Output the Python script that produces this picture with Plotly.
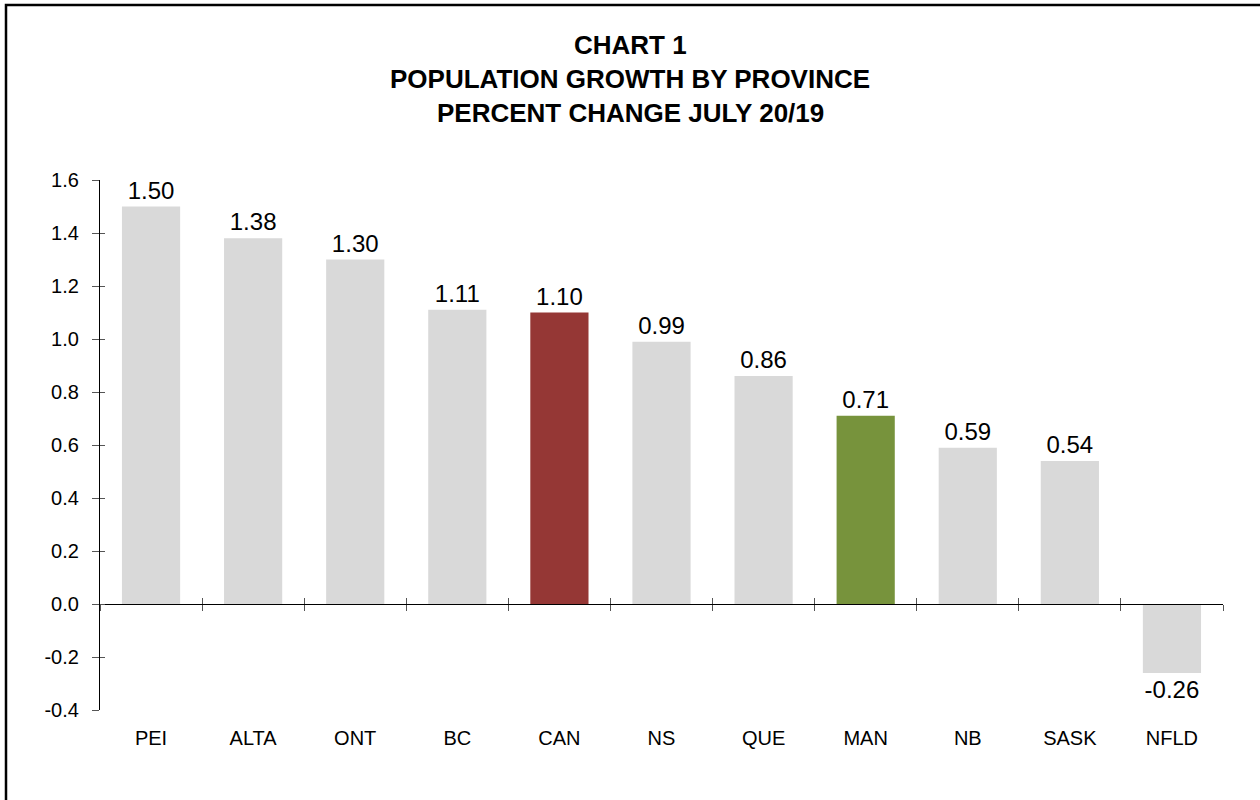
import plotly.graph_objects as go

provinces = ["PEI", "ALTA", "ONT", "BC", "CAN", "NS", "QUE", "MAN", "NB", "SASK", "NFLD"]
growth = [1.50, 1.38, 1.30, 1.11, 1.10, 0.99, 0.86, 0.71, 0.59, 0.54, -0.26]
labels = ["1.50", "1.38", "1.30", "1.11", "1.10", "0.99", "0.86", "0.71", "0.59", "0.54", "-0.26"]
ytick_vals = [-0.4, -0.2, 0.0, 0.2, 0.4, 0.6, 0.8, 1.0, 1.2, 1.4, 1.6]
ytick_text = ["-0.4", "-0.2", "0.0", "0.2", "0.4", "0.6", "0.8", "1.0", "1.2", "1.4", "1.6"]
title_lines = ["CHART 1", "POPULATION GROWTH BY PROVINCE", "PERCENT CHANGE JULY 20/19"]

GRAY = "#D9D9D9"
RED = "#953735"
GREEN = "#77933C"
colors = [RED if p == "CAN" else GREEN if p == "MAN" else GRAY for p in provinces]

FONT = "Liberation Sans, Arial, sans-serif"
W, H = 1260, 800
ML, MR, MT, MB = 100, 37, 180, 90
YMIN, YMAX = -0.4, 1.6
pw, ph = W - ML - MR, H - MT - MB

fig = go.Figure()
fig.add_trace(go.Bar(
    x=provinces, y=growth, marker=dict(color=colors, line=dict(width=0)),
    text=labels, textposition="outside", textfont=dict(size=24, color="black", family=FONT),
    constraintext="none", cliponaxis=False, showlegend=False, hoverinfo="x+y",
))
# helper invisible traces so overlay axes (crossing ticks) are drawn
fig.add_trace(go.Scatter(x=provinces, y=growth, xaxis="x2", yaxis="y", mode="none", showlegend=False, hoverinfo="skip"))
fig.add_trace(go.Scatter(x=provinces, y=growth, xaxis="x3", yaxis="y", mode="none", showlegend=False, hoverinfo="skip"))
fig.add_trace(go.Scatter(x=provinces, y=growth, xaxis="x", yaxis="y2", mode="none", showlegend=False, hoverinfo="skip"))

zero_pos = (0 - YMIN) / (YMAX - YMIN)
cat_common = dict(type="category", categoryorder="array", categoryarray=provinces, range=[-0.5, len(provinces) - 0.5])

fig.update_layout(
    width=W, height=H,
    margin=dict(l=ML, r=MR, t=MT, b=MB, pad=0),
    paper_bgcolor="white", plot_bgcolor="white",
    bargap=0.43,
    font=dict(family=FONT, size=20, color="black"),
    xaxis=dict(**cat_common, showline=False, ticks="", showgrid=False, zeroline=False,
               tickfont=dict(size=20), ticklabelstandoff=14),
    xaxis2=dict(**cat_common, matches="x", overlaying="x", anchor="free", position=zero_pos,
                showline=True, linecolor="black", linewidth=1.3, ticks="outside", tickson="boundaries",
                ticklen=6, tickcolor="#555555", tickwidth=1, showticklabels=False, showgrid=False, zeroline=False),
    xaxis3=dict(**cat_common, matches="x", overlaying="x", anchor="free", position=zero_pos,
                showline=False, ticks="inside", tickson="boundaries",
                ticklen=6, tickcolor="#555555", tickwidth=1, showticklabels=False, showgrid=False, zeroline=False),
    yaxis=dict(range=[YMIN, YMAX], tickmode="array", tickvals=ytick_vals, ticktext=ytick_text,
               showline=True, linecolor="black",
               linewidth=1.3, ticks="outside", ticklen=7, tickcolor="#555555", tickwidth=1,
               showgrid=False, zeroline=False, tickfont=dict(size=20), ticklabelstandoff=9),
    yaxis2=dict(range=[YMIN, YMAX], matches="y", overlaying="y", anchor="x", side="left",
                tickmode="array", tickvals=ytick_vals,
                showline=False, ticks="inside", ticklen=5, tickcolor="#555555", tickwidth=1,
                showticklabels=False, showgrid=False, zeroline=False),
)

# title lines
title_centers_px = [45, 79, 113]
for line, cy in zip(title_lines, title_centers_px):
    fig.add_annotation(
        text=f"<b>{line}</b>", xref="paper", yref="paper",
        x=(630 - ML) / pw, y=(H - MB - cy) / ph, xanchor="center", yanchor="middle",
        showarrow=False, font=dict(size=26, family=FONT, color="black"),
    )

# outer chart border (left and top edges visible, right/bottom cut off)
fig.add_shape(type="rect", xref="paper", yref="paper",
              x0=(6 - ML) / pw, x1=(W + 20 - ML) / pw,
              y0=(H - MB - (H + 20)) / ph, y1=(H - MB - 5) / ph,
              line=dict(color="black", width=2.5), fillcolor="rgba(0,0,0,0)", layer="above")

fig.write_html("out.html", config={"displayModeBar": False},
               post_script="document.body.style.margin='0';")
